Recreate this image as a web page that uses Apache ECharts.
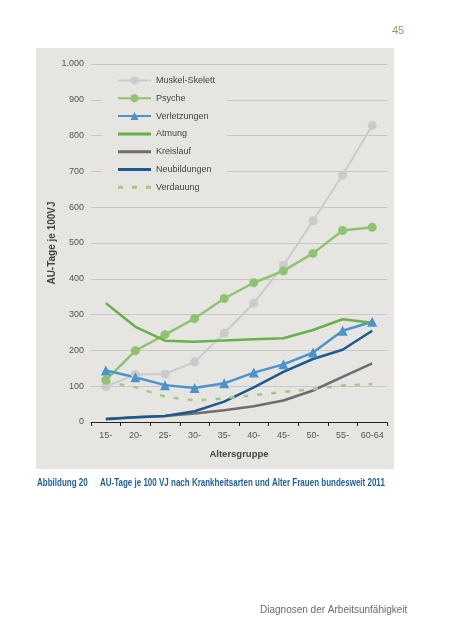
<!DOCTYPE html>
<html>
<head>
<meta charset="utf-8">
<script src="https://cdn.jsdelivr.net/npm/echarts@6/dist/echarts.min.js"></script>
<style>
html,body{margin:0;padding:0;background:#fff;}
#chart{width:452px;height:640px;}
</style>
</head>
<body>
<div id="chart"></div>
<script>
const categories = ['15-', '20-', '25-', '30-', '35-', '40-', '45-', '50-', '55-', '60-64'];
const muskelSkelett = [99, 133, 134, 168, 248, 332, 437, 562, 690, 828];
const psyche = [117, 199, 244, 289, 345, 389, 422, 471, 535, 544];
const verletzungen = [144, 125, 103, 95, 108, 138, 161, 194, 255, 280];
const atmung = [332, 266, 227, 224, 228, 231, 234, 257, 287, 277];
const kreislauf = [9, 13, 17, 24, 33, 44, 60, 88, 126, 164];
const neubildungen = [8, 13, 17, 30, 57, 97, 140, 176, 202, 255];
const verdauung = [113, 97, 71, 60, 66, 75, 84, 92, 102, 106];
const yTicks = [0, 100, 200, 300, 400, 500, 600, 700, 800, 900, 1000];

const PANEL = '#e6e5e1';
const FONT = '"Liberation Sans", Arial, sans-serif';

const chart = echarts.init(document.getElementById('chart'), null, {renderer: 'canvas'});

function lineSeries(name, data, color, opts) {
  return Object.assign({
    name: name,
    type: 'line',
    data: data,
    symbol: 'none',
    symbolSize: 9,
    showSymbol: true,
    lineStyle: {color: color, width: 2.5},
    itemStyle: {color: color},
    emphasis: {disabled: true},
    animation: false
  }, opts || {});
}

const solidIcon = 'path://M0,0L33,0L33,3L0,3Z';
const dashIcon = 'path://M0,0L5,0L5,3L0,3Z M14,0L19,0L19,3L14,3Z M28,0L33,0L33,3L28,3Z';

chart.setOption({
  backgroundColor: '#ffffff',
  animation: false,
  textStyle: {fontFamily: FONT},
  graphic: [
    {type: 'rect', z: -10, silent: true, shape: {x: 36, y: 48, width: 358, height: 421}, style: {fill: PANEL}},
    {type: 'text', x: 392, y: 25, style: {text: '45', fill: '#7aa95c', font: '11px ' + FONT}},
    {type: 'text', x: 37, y: 478, scaleX: 0.8, style: {text: 'Abbildung 20', fill: '#1f5f99', font: 'bold 10px ' + FONT}},
    {type: 'text', x: 100, y: 478, scaleX: 0.8, style: {text: 'AU-Tage je 100 VJ nach Krankheitsarten und Alter Frauen bundesweit 2011', fill: '#1f5f99', font: 'bold 10px ' + FONT}},
    {type: 'text', x: 260, y: 605, style: {text: 'Diagnosen der Arbeitsunfähigkeit', fill: '#666a70', font: '10px ' + FONT}}
  ],
  grid: {left: 91, right: 65, top: 64, bottom: 218, containLabel: false},
  legend: {
    orient: 'vertical',
    left: 102,
    top: 73,
    padding: [3, 12, 3, 15],
    backgroundColor: PANEL,
    itemWidth: 33,
    itemHeight: 10,
    itemGap: 8.8,
    textStyle: {fontSize: 9, color: '#444', fontFamily: FONT},
    data: [
      {name: 'Muskel-Skelett'},
      {name: 'Psyche'},
      {name: 'Verletzungen'},
      {name: 'Atmung', icon: solidIcon},
      {name: 'Kreislauf', icon: solidIcon},
      {name: 'Neubildungen', icon: solidIcon},
      {name: 'Verdauung', icon: dashIcon}
    ]
  },
  xAxis: {
    type: 'category',
    data: categories,
    boundaryGap: true,
    name: 'Altersgruppe',
    nameLocation: 'middle',
    nameGap: 27,
    nameMoveOverlap: false,
    nameTextStyle: {fontWeight: 'bold', fontSize: 9.5, color: '#444', fontFamily: FONT},
    axisLine: {show: true, lineStyle: {color: '#222', width: 1}},
    axisTick: {show: true, length: 4, lineStyle: {color: '#222'}},
    axisLabel: {interval: 0, fontSize: 9, color: '#555', margin: 9, fontFamily: FONT},
    splitLine: {show: false}
  },
  yAxis: {
    type: 'value',
    min: yTicks[0],
    max: yTicks[yTicks.length - 1],
    interval: 100,
    name: 'AU-Tage je 100VJ',
    nameLocation: 'middle',
    nameRotate: 90,
    nameGap: 34,
    nameMoveOverlap: false,
    nameTextStyle: {fontWeight: 'bold', fontSize: 10, color: '#444', fontFamily: FONT},
    axisLine: {show: false},
    axisTick: {show: false},
    axisLabel: {
      fontSize: 9, color: '#555', margin: 7, fontFamily: FONT,
      formatter: v => v === 1000 ? '1.000' : String(v)
    },
    splitLine: {show: true, lineStyle: {color: '#c9c8c4', width: 1}}
  },
  series: [
    lineSeries('Muskel-Skelett', muskelSkelett, '#c9cbcd', {symbol: 'circle', lineStyle: {color: '#c9cbcd', width: 2}}),
    lineSeries('Psyche', psyche, '#8fc370', {symbol: 'circle'}),
    lineSeries('Verletzungen', verletzungen, '#4b93cb', {symbol: 'triangle', symbolSize: 10}),
    lineSeries('Atmung', atmung, '#69b04a'),
    lineSeries('Kreislauf', kreislauf, '#6b6d70'),
    lineSeries('Neubildungen', neubildungen, '#1b5a8e'),
    lineSeries('Verdauung', verdauung, '#9ccc7c', {lineStyle: {color: '#9ccc7c', width: 2.5, type: [5, 9]}})
  ]
});
</script>
</body>
</html>
